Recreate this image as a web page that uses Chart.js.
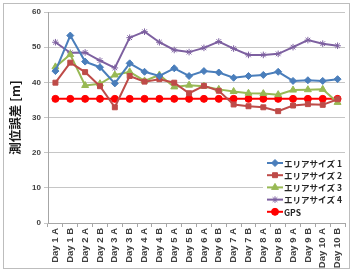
<!DOCTYPE html>
<html>
<head>
<meta charset="utf-8">
<script src="https://cdn.jsdelivr.net/npm/chart.js@4/dist/chart.umd.min.js"></script>
<style>
html,body{margin:0;padding:0;background:#fff;}
#wrap{position:relative;width:356px;height:271px;}
#frame{position:absolute;left:3px;top:3px;width:347px;height:266px;border:1px solid #bdbdbd;box-sizing:border-box;pointer-events:none;}
</style>
</head>
<body>
<div id="wrap">
<canvas id="c" width="356" height="271"></canvas>
<div id="frame"></div>
</div>
<script>
const categories = ["Day 1 A","Day 1 B","Day 2 A","Day 2 B","Day 3 A","Day 3 B","Day 4 A","Day 4 B","Day 5 A","Day 5 B","Day 6 A","Day 6 B","Day 7 A","Day 7 B","Day 8 A","Day 8 B","Day 9 A","Day 9 B","Day 10 A","Day 10 B"];
const area1 = [43.2,53.3,45.9,44.3,39.7,45.4,43.0,41.8,44.0,41.8,43.2,42.8,41.3,41.8,42.1,43.0,40.4,40.6,40.4,40.9];
const area2 = [39.9,45.6,42.9,38.9,32.9,41.8,40.2,40.9,39.9,36.9,39.0,37.6,33.7,33.2,32.9,31.8,33.4,33.8,33.6,35.2];
const area3 = [44.4,47.9,39.1,39.6,42.1,43.0,40.4,42.1,38.7,39.2,38.9,38.0,37.4,36.9,36.8,36.5,37.8,37.9,38.0,34.3];
const area4 = [51.4,48.4,48.5,46.2,44.1,52.7,54.4,51.4,49.2,48.6,49.8,51.6,49.6,47.8,47.8,48.1,50.0,52.0,51.0,50.4];
const gps   = [35.3,35.3,35.3,35.3,35.3,35.3,35.3,35.3,35.3,35.3,35.3,35.3,35.3,35.3,35.3,35.3,35.3,35.3,35.3,35.3];
const seriesNames = ["エリアサイズ 1","エリアサイズ 2","エリアサイズ 3","エリアサイズ 4","GPS"];
const yTitle = "測位誤差 [m]";

const styles = [
  {color:"#4A7EBB", point:"rectRot", r:3.5},
  {color:"#BE4B48", point:"rect", r:3.5},
  {color:"#98B954", point:"triangle", r:4},
  {color:"#7D60A0", point:"star", r:3.3},
  {color:"#FF0000", point:"circle", r:3.5}
];
const values = [area1, area2, area3, area4, gps];

const datasets = values.map((v,i)=>({
  label: seriesNames[i],
  data: v,
  borderColor: styles[i].color,
  backgroundColor: styles[i].color,
  pointBackgroundColor: styles[i].color,
  pointBorderColor: styles[i].color,
  pointStyle: styles[i].point,
  pointRadius: styles[i].r,
  pointBorderWidth: 1,
  borderWidth: 2,
  tension: 0
}));

const legendPlugin = {
  id: 'boxLegend',
  afterDraw(chart) {
    const ctx = chart.ctx;
    const x0 = 263, y0 = 155, w = 82, h = 65;
    ctx.save();
    ctx.fillStyle = '#fff';
    ctx.fillRect(x0, y0, w, h);
    ctx.font = 'bold 8.5px "Noto Sans CJK JP"';
    ctx.textBaseline = 'middle';
    ctx.textAlign = 'left';
    seriesNames.forEach((name, i) => {
      const y = 163 + i * 12.2;
      ctx.strokeStyle = styles[i].color;
      ctx.lineWidth = 2;
      ctx.beginPath();
      ctx.moveTo(267, y);
      ctx.lineTo(283, y);
      ctx.stroke();
      ctx.fillStyle = styles[i].color;
      ctx.lineWidth = 1;
      Chart.helpers.drawPoint(ctx, {pointStyle: styles[i].point, radius: styles[i].r, rotation: 0, borderWidth: 1}, 275, y);
      ctx.fillStyle = '#262626';
      ctx.fillText(name, 284, y + 0.5);
    });
    ctx.restore();
  }
};

new Chart(document.getElementById('c'), {
  type: 'line',
  data: { labels: categories, datasets },
  options: {
    responsive: false,
    animation: false,
    devicePixelRatio: 1,
    layout: { padding: { left: 8, right: 11, top: 12, bottom: 0 } },
    plugins: { legend: { display: false }, tooltip: { enabled: false } },
    scales: {
      x: {
        type: 'category',
        offset: true,
        grid: { display: true, drawOnChartArea: false, drawTicks: true, tickLength: 4, color: '#a6a6a6', offset: true },
        border: { display: true, color: '#a6a6a6', width: 1 },
        ticks: { minRotation: 90, maxRotation: 90, autoSkip: false, padding: 1, color: '#404040',
                 font: { family: '"Liberation Sans"', size: 9.5, weight: 'bold' } },
        afterFit(scale) { scale.height = 48; }
      },
      y: {
        min: 0, max: 60,
        ticks: { stepSize: 10, padding: 3, color: '#404040',
                 font: { family: '"Liberation Sans"', size: 8, weight: 'bold' } },
        grid: { color: '#c6c6c6', lineWidth: 1, tickLength: 4, drawTicks: true },
        border: { display: true, color: '#a6a6a6', width: 1 },
        title: { display: true, text: yTitle, color: '#1a1a1a', padding: 0,
                 font: { family: '"Noto Sans CJK JP"', size: 12.5, weight: 'bold' } },
        afterFit(scale) { scale.width = 40; }
      }
    }
  },
  plugins: [legendPlugin]
});
</script>
</body>
</html>
